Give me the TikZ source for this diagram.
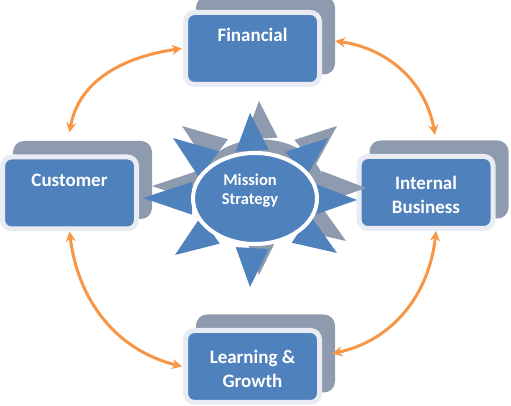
\documentclass[tikz,border=0pt]{standalone}
\usepackage{fontspec}
\setmainfont{Carlito}
\usetikzlibrary{arrows.meta,calc,shapes.geometric}
\definecolor{ofblue}{HTML}{4F81BD}
\definecolor{ofgray}{HTML}{8E9BAE}
\definecolor{ofrim}{HTML}{E9EDF3}
\definecolor{oforange}{HTML}{F79646}
\begin{document}
\begin{tikzpicture}[x=1pt,y=1pt,
  card/.style={rectangle, fill=ofblue, draw=ofrim, line width=5pt, rounded corners=9pt,
    minimum width=134pt, minimum height=72pt, inner sep=0pt},
  cardback/.style={rectangle, fill=ofgray, rounded corners=11pt,
    minimum width=139pt, minimum height=78pt, inner sep=0pt},
  lbl/.style={text=white, font=\fontsize{19}{23.5}\selectfont\bfseries, align=center, inner sep=0pt},
  link/.style={draw=oforange, line width=3pt,
    {Stealth[length=10pt,width=10pt]}-{Stealth[length=10pt,width=10pt]}}]
\useasboundingbox (0,0) rectangle (511,406);

% cards
\node[cardback] (finback) at (265.5,370.5) {};
\node[card] (fin) at (252.5,357.5) {};
\node[cardback] (custback) at (82.5,226) {};
\node[card] (cust) at (69.5,213) {};
\node[cardback] (intback) at (439,226.5) {};
\node[card] (int) at (426,213.5) {};
\node[cardback] (learnback) at (265.5,52.5) {};
\node[card] (learn) at (252.5,39.5) {};

\node[lbl] (fint) at ([yshift=13.5pt]fin.center) {Financial};
\node[lbl] (custt) at ([yshift=13pt]cust.center) {Customer};
\node[lbl] (intt) at ([yshift=-2.5pt]int.center) {Internal\\Business};
\node[lbl] (learnt) at ([yshift=-2.5pt]learn.center) {Learning \&\\Growth};

% sun
\coordinate (sc) at (255,207.5);
\coordinate (gc) at (264,219.5);
\foreach \tx/\ty in {250/293, 328/268, 357/206, 337/153, 250/119, 175/151, 143/208, 173/268} {
  \fill[ofgray] ($(\tx,\ty)+(9,12)$) coordinate (t)
    -- ($(gc)!0.56!(t)!16.5pt!90:(t)$) -- ($(gc)!0.56!(t)!16.5pt!-90:(t)$) -- cycle;
}
\node[ellipse, fill=ofgray, minimum width=126pt, minimum height=94pt, inner sep=0pt] (sunshadow) at (261,219.5) {};
\foreach \tx/\ty in {250/293, 328/268, 357/206, 337/153, 250/119, 175/151, 143/208, 173/268} {
  \fill[ofblue] (\tx,\ty) coordinate (t)
    -- ($(sc)!0.56!(t)!16.5pt!90:(t)$) -- ($(sc)!0.56!(t)!16.5pt!-90:(t)$) -- cycle;
}
\node[ellipse, fill=ofblue, draw=white, line width=4pt, minimum width=124pt, minimum height=91pt, inner sep=0pt] (sun) at (sc) {};
\node[lbl, font=\fontsize{16.5}{19}\selectfont\bfseries] (mtext) at (250,215.5) {Mission\\Strategy};

% arrows
\draw[link] ([xshift=-1pt]fin.west) to[out=188,in=80] ([yshift=22pt]cust.north);
\draw[link] ([yshift=-5.5pt]finback.east) to[out=-8,in=100] ([shift={(-4,5.5)}]intback.north);
\draw[link] (cust.south) to[out=-83,in=166] ([xshift=-1pt]learn.west);
\draw[link] ([xshift=10pt]int.south) to[out=-96,in=12] ([xshift=-3pt]learnback.east);
\end{tikzpicture}
\end{document}
